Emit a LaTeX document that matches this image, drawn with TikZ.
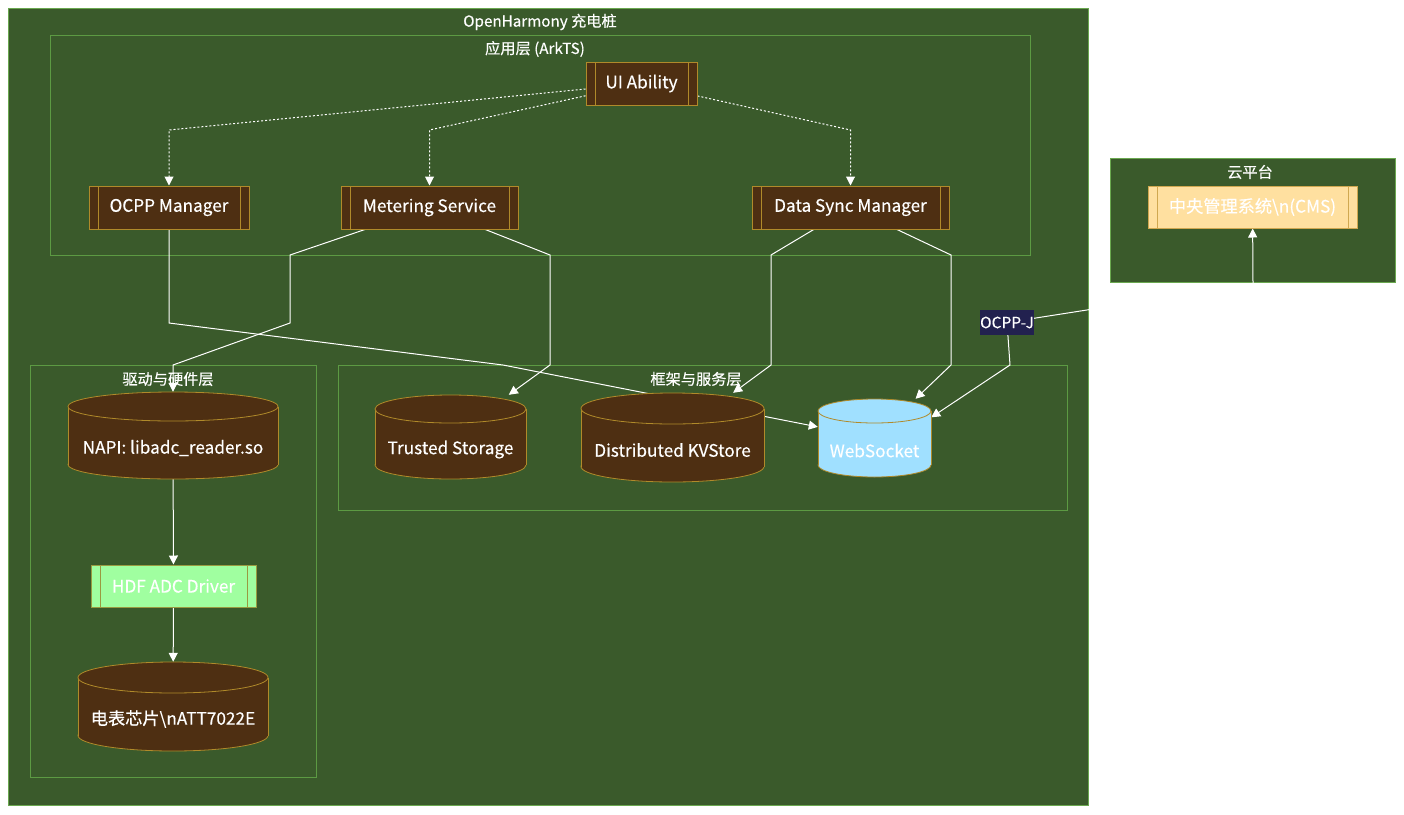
\documentclass[tikz,border=0pt]{standalone}
\usepackage{fontspec}
\setmainfont{Noto Sans CJK SC}[FakeBold=0.3]
\usetikzlibrary{arrows.meta,calc}
\pgfdeclarelayer{bg}
\pgfdeclarelayer{edges}
\pgfsetlayers{bg,edges,main}
\definecolor{bggreen}{HTML}{3A5A2B}
\definecolor{clborder}{HTML}{6AA84F}
\definecolor{inborder}{HTML}{5C9A43}
\definecolor{procfill}{HTML}{4E2F12}
\definecolor{procdraw}{HTML}{B08A2A}
\definecolor{cmsfill}{HTML}{FFE0A0}
\definecolor{cmsdraw}{HTML}{D0A850}
\definecolor{hdffill}{HTML}{A0FFA0}
\definecolor{hdfdraw}{HTML}{9A9A40}
\definecolor{wsfill}{HTML}{A0E0FF}
\definecolor{navyfill}{HTML}{22214F}
\newcommand\nfont{\fontsize{17.2}{20}\selectfont}
\newcommand\tfont{\fontsize{15.2}{18}\selectfont}
\newcommand\cylnode[8]{%
 \filldraw[#7, line width=0.8pt] (#2,{#3+#5-#6}) ellipse [x radius={#4*0.5pt}, y radius={#6*1pt}];
 \fill[#7, draw=none] ({#2-#4/2},{#3+#6}) rectangle ({#2+#4/2},{#3+#5-#6});
 \draw[#7, line width=0.8pt] ({#2-#4/2},{#3+#6}) -- ({#2-#4/2},{#3+#5-#6}) ({#2+#4/2},{#3+#6}) -- ({#2+#4/2},{#3+#5-#6});
 \filldraw[#7, line width=0.8pt] (#2,{#3+#6}) ellipse [x radius={#4*0.5pt}, y radius={#6*1pt}];
 \node[cylbox, minimum width=#4pt, minimum height=#5pt] (#1) at (#2,{#3+#5/2}) {};
 \node[cyltext, #7, draw=none, fill=none] (#1-text) at (#2,{#3+#5/2+12.5}) {#8};
}
\tikzset{
 x=1pt, y=-1pt,
 cluster/.style={draw=clborder, fill=bggreen, line width=1pt},
 inner cluster/.style={draw=inborder, line width=1pt},
 ctitle/.style={text=white, font=\tfont, inner sep=0pt},
 bars/.style={path picture={\draw[#1, line width=1pt]
   ([xshift=9pt]path picture bounding box.north west) -- ([xshift=9pt]path picture bounding box.south west)
   ([xshift=-9pt]path picture bounding box.north east) -- ([xshift=-9pt]path picture bounding box.south east);}},
 proc/.style={rectangle, draw=procdraw, fill=procfill, line width=1pt, text=white, font=\nfont,
   inner sep=0pt, minimum height=43pt, bars=procdraw},
 cmsbox/.style={proc, draw=cmsdraw, fill=cmsfill, bars=cmsdraw, minimum height=42pt},
 hdfbox/.style={proc, draw=hdfdraw, fill=hdffill, bars=hdfdraw, minimum height=42pt},
 cylbox/.style={rectangle, inner sep=0pt, draw=none, fill=none},
 cyltext/.style={font=\nfont, inner sep=0pt},
 browncyl/.style={fill=procfill, draw=procdraw, text=white},
 bluecyl/.style={fill=wsfill, draw=procdraw, text=white},
 edge/.style={draw=white, line width=1pt, -{Triangle[width=9pt,length=9pt]}},
 dotedge/.style={edge, dash pattern=on 2pt off 2pt},
 tag/.style={fill=navyfill, text=white, font=\fontsize{15.5}{18}\selectfont, inner sep=0pt,
   minimum width=54pt, minimum height=25pt},
}
\begin{document}
\begin{tikzpicture}
\useasboundingbox (0,0) rectangle (1404,814);
\begin{pgfonlayer}{bg}
 \fill[white] (0,0) rectangle (1404,814);
 \draw[cluster] (8,8) rectangle (1088,805);
 \draw[inner cluster] (50,35) rectangle (1030,255);
 \draw[inner cluster] (30,365) rectangle (316,777);
 \draw[inner cluster] (338,365) rectangle (1067,510);
 \draw[cluster] (1110,158) rectangle (1395,282);
\end{pgfonlayer}
\node[ctitle] (t-main) at (540,22) {OpenHarmony 充电桩};
\node[ctitle] (t-app) at (535,49) {应用层 (ArkTS)};
\node[ctitle] (t-cloud) at (1250,172) {云平台};
\node[ctitle] (t-drv) at (168,379) {驱动与硬件层};
\node[ctitle] (t-fw) at (696,379) {框架与服务层};

\node[proc, minimum width=111pt] (ui) at (641.5,83.5) {UI Ability};
\node[proc, minimum width=160pt] (om) at (169,207.5) {OCPP Manager};
\node[proc, minimum width=177pt] (ms) at (429.5,207.5) {Metering Service};
\node[proc, minimum width=197pt] (ds) at (850.5,207.5) {Data Sync Manager};
\node[cmsbox, minimum width=209pt] (cms) at (1252.5,207) {中央管理系统\textbackslash n(CMS)};
\node[hdfbox, minimum width=165pt] (hdf) at (173.5,586) {HDF ADC Driver};

\cylnode{napi}{173}{392}{210}{87}{14.5}{browncyl}{NAPI: libadc\_reader.so}
\cylnode{trust}{450.5}{395}{151}{84}{14}{browncyl}{Trusted Storage}
\cylnode{kv}{672.5}{393}{183}{89}{15.5}{browncyl}{Distributed KVStore}
\cylnode{ws}{874.5}{399}{113}{78}{12}{bluecyl}{WebSocket}
\cylnode{chip}{173}{662}{190}{89}{15.5}{browncyl}{电表芯片\textbackslash nATT7022E}

\node[tag] (ocppj) at (1007,322.5) {OCPP-J};

\begin{pgfonlayer}{edges}
 \draw[dotedge] (ui) -- (169,130) -- (om);
 \draw[dotedge] (ui) -- (429.5,130) -- (ms);
 \draw[dotedge] (ui) -- (850.5,130) -- (ds);
 \draw[edge] (ms) -- (290,255) -- (290,323) -- (173,365) -- (napi);
 \draw[edge] (ms) -- (550,255) -- (550,365) -- (trust);
 \draw[edge] (om) -- (169,323) -- (503,365) -- (ws);
 \draw[edge] (ds) -- (771,255) -- (771,365) -- (kv);
 \draw[edge] (ds) -- (951,255) -- (951,365) -- (ws);
 \draw[edge, {Triangle[width=9pt,length=9pt]}-{Triangle[width=9pt,length=9pt]}]
   (ws.20) -- (1010,365) -- (ocppj.center) -- (1253,284) -- (cms);
 \draw[edge] (napi) -- (hdf);
 \draw[edge] (hdf) -- (chip);
\end{pgfonlayer}
\end{tikzpicture}
\end{document}
